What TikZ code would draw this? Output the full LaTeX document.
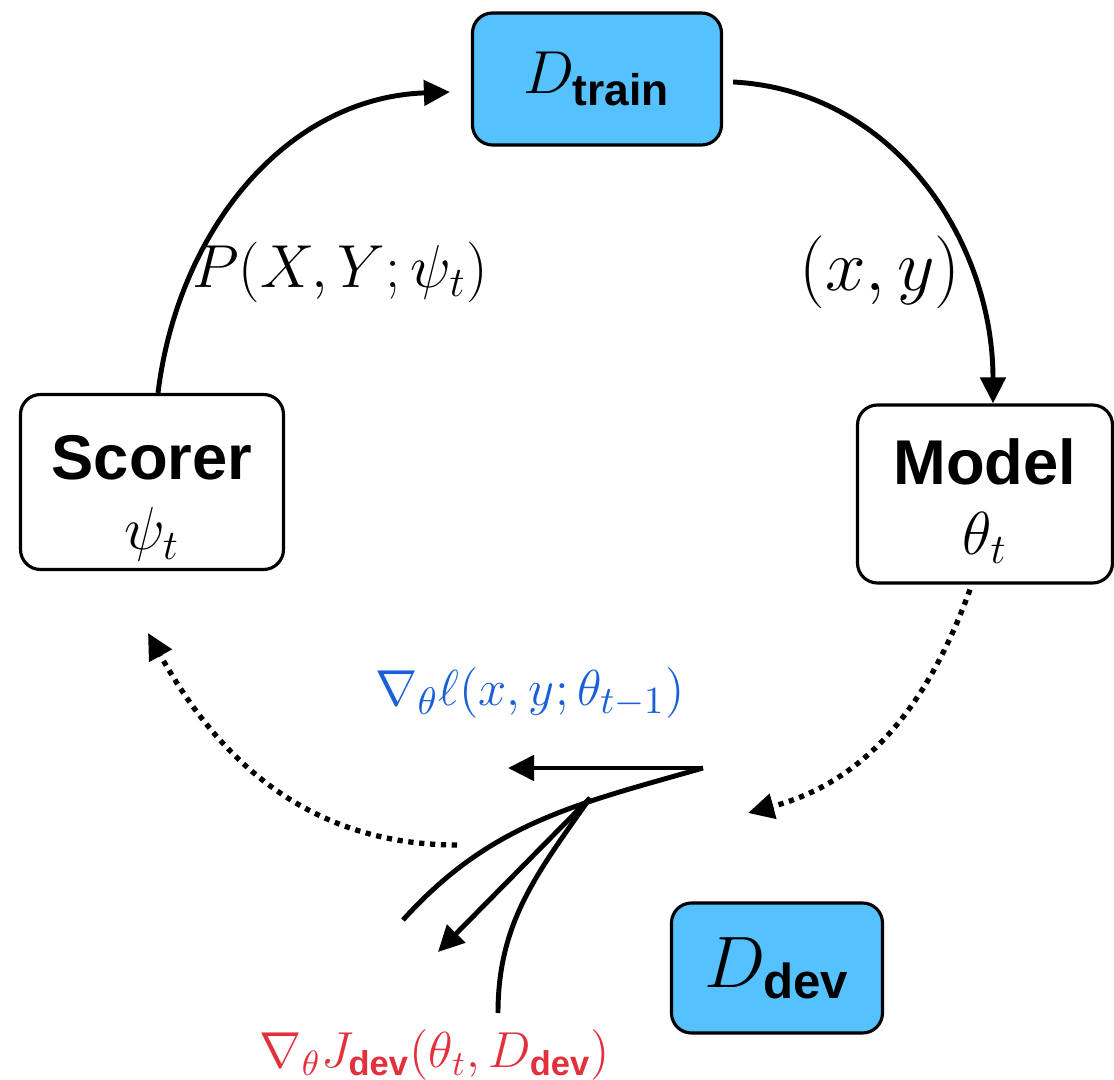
\documentclass[tikz,border=0pt]{standalone}
\usepackage{amsmath}
\usepackage{fontspec}
\setsansfont{Liberation Sans}
\usetikzlibrary{arrows.meta,positioning}

\definecolor{skyblue}{HTML}{56C1FF}
\definecolor{gradblue}{HTML}{1A5FD8}
\definecolor{gradred}{HTML}{E2303C}

\newcommand{\sfb}[1]{\text{\sffamily\bfseries #1}}

\begin{document}
\begin{tikzpicture}[
    block/.style={
        draw,
        rounded corners=0.2cm,
        line width=0.9pt,
        align=center,
        inner sep=0pt,
        font=\fontsize{18}{19}\selectfont
    },
    data/.style={block, fill=skyblue},
    flow/.style={line width=1.4pt, -{Triangle[length=0.26cm,width=0.25cm]}},
    feedback/.style={flow, line width=1.5pt, dash pattern=on 1.5pt off 1.6pt},
    grad/.style={line width=1.4pt}
]

\useasboundingbox (0,0) rectangle (11.14,-10.8);

\node[data, minimum width=2.49cm, minimum height=1.32cm] (train) at (5.97,-0.79)
    {$D_{\sfb{train}}$};
\node[block, minimum width=2.63cm, minimum height=1.75cm] (scorer) at (1.52,-4.82)
    {\rule{0pt}{22pt}\sffamily\bfseries Scorer\\[1pt] $\psi_t$};
\node[block, minimum width=2.55cm, minimum height=1.78cm] (model) at (9.85,-4.94)
    {\rule{0pt}{17pt}\sffamily\bfseries Model\\[1pt] $\theta_t$};
\node[data, minimum width=2.11cm, minimum height=1.30cm,
      font=\fontsize{20}{22}\selectfont] (dev) at (7.77,-9.68)
    {$D_{\sfb{dev}}$};

% edge labels
\node[font=\fontsize{17}{19}\selectfont] (scorelbl) at (3.40,-2.72) {$P(X,Y;\psi_t)$};
\node[font=\fontsize{20}{22}\selectfont] (pairlbl) at (8.80,-2.72) {$(x,y)$};
\node[font=\fontsize{15}{17}\selectfont, text=gradblue] (losslbl) at (5.30,-6.93)
    {$\nabla_\theta \ell(x,y;\theta_{t-1})$};
\node[font=\fontsize{14}{16}\selectfont, text=gradred] (devlbl) at (4.35,-10.55)
    {$\nabla_\theta J_{\sfb{dev}}(\theta_t, D_{\sfb{dev}})$};

% gradient sketch
\coordinate (gtop) at (7.03,-7.68);
\coordinate (gsplit) at (5.90,-7.98);
\coordinate (lossend) at (5.08,-7.68);
\coordinate (devend) at (4.38,-9.52);
\coordinate (leftend) at (4.03,-9.20);
\coordinate (lowend) at (4.98,-10.13);

% feedback ends
\coordinate (devin) at (7.48,-8.13);
\coordinate (fbstart) at (4.57,-8.45);
\coordinate (fbend) at (1.48,-6.33);

\draw[flow] ([xshift=0.06cm]scorer.north) to[out=83, in=182] ([xshift=-0.21cm, yshift=-0.13cm]train.west);
\draw[flow] ([xshift=0.1cm, yshift=-0.03cm]train.east) to[out=-3, in=90] ([xshift=0.08cm]model.north);
\draw[feedback] ([xshift=-0.15cm, yshift=-0.05cm]model.south) to[out=-110, in=15] (devin);
\draw[feedback] (fbstart) to[out=180, in=-61] (fbend);

\draw[grad] (gtop) to[out=196, in=48] (leftend);
\draw[grad] (gsplit) to[out=-125, in=90] (lowend);
\draw[flow] (gtop) -- (lossend);
\draw[flow] (gsplit) -- (devend);

\end{tikzpicture}
\end{document}
